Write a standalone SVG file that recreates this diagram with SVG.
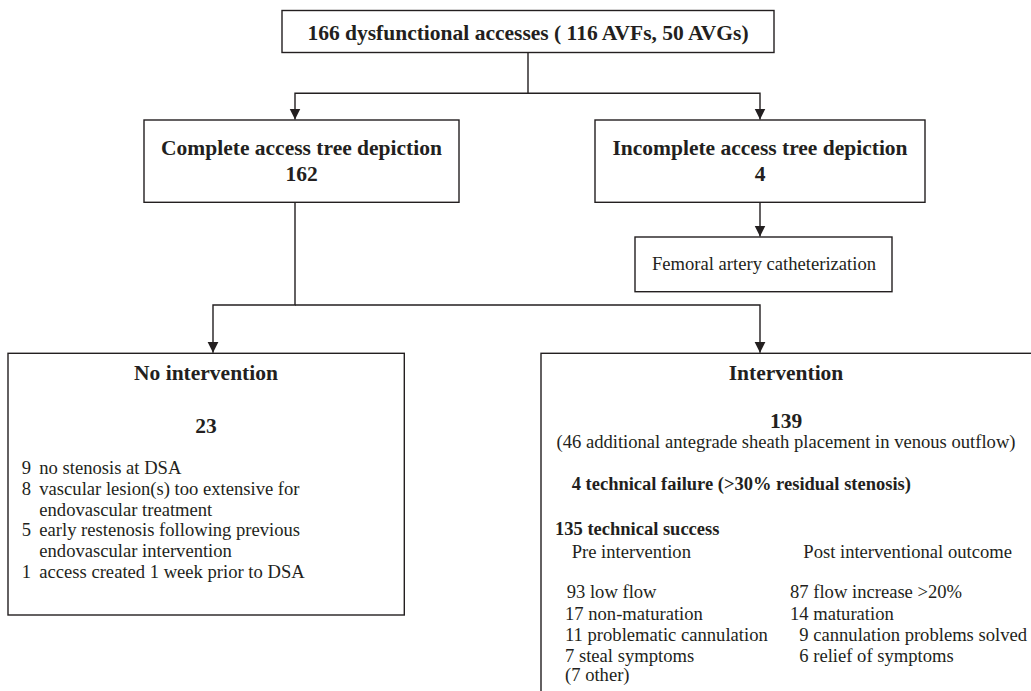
<svg xmlns="http://www.w3.org/2000/svg" width="1031" height="691" viewBox="0 0 1031 691" font-family="Liberation Serif, Times New Roman, serif">
<defs>
<marker id="arr" markerUnits="userSpaceOnUse" markerWidth="12" markerHeight="12" viewBox="0 0 12 12" refX="11" refY="6" orient="auto">
<path d="M0,0.5 L11,6 L0,11.5 Z" fill="#231f20"/>
</marker>
<style>
.box{fill:#fff;stroke:#231f20;stroke-width:1.4}
.ln{fill:none;stroke:#231f20;stroke-width:1.4}
text{font-family:'Liberation Serif','Times New Roman',serif;fill:#231f20}
.h{font-size:21.5px;font-weight:bold;text-anchor:middle}
.b{font-size:18.5px;font-weight:bold}
.r{font-size:18.6px}
.c{text-anchor:middle}
</style>
</defs>
<rect width="1031" height="691" fill="#fff"/>
<g id="connectors">
<path class="ln" d="M528,52.5 V93.3 H295 V119.5" marker-end="url(#arr)"/>
<path class="ln" d="M528,93.3 H760 V119.5" marker-end="url(#arr)"/>
<path class="ln" d="M760,202.3 V236.5" marker-end="url(#arr)"/>
<path class="ln" d="M295,202.3 V305 H213 V352.8" marker-end="url(#arr)"/>
<path class="ln" d="M295,305 H760 V352.8" marker-end="url(#arr)"/>
</g>
<g id="top">
<rect class="box" x="282" y="10.5" width="492" height="42"/>
<text class="h" x="528" y="40">166 dysfunctional accesses ( 116 AVFs, 50 AVGs)</text>
</g>
<g id="complete">
<rect class="box" x="144" y="120" width="315" height="82.3"/>
<text class="h" x="301.5" y="155">Complete access tree depiction</text>
<text class="h" x="301.5" y="181">162</text>
</g>
<g id="incomplete">
<rect class="box" x="595" y="120" width="330" height="82.3"/>
<text class="h" x="760" y="155">Incomplete access tree depiction</text>
<text class="h" x="760" y="181">4</text>
</g>
<g id="femoral">
<rect class="box" x="635" y="237" width="257" height="54.7"/>
<text class="r c" x="764" y="270">Femoral artery catheterization</text>
</g>
<g id="nointervention">
<rect class="box" x="8" y="353.3" width="396.3" height="261.7"/>
<text class="h" x="206" y="380">No intervention</text>
<text class="h" x="206" y="433">23</text>
<text class="r" x="21.7" y="474">9</text><text class="r" x="39.3" y="474">no stenosis at DSA</text>
<text class="r" x="21.7" y="494.8">8</text><text class="r" x="39.3" y="494.8">vascular lesion(s) too extensive for</text>
<text class="r" x="39.3" y="515.6">endovascular treatment</text>
<text class="r" x="21.7" y="536.4">5</text><text class="r" x="39.3" y="536.4">early restenosis following previous</text>
<text class="r" x="39.3" y="557.2">endovascular intervention</text>
<text class="r" x="21.7" y="578">1</text><text class="r" x="39.3" y="578">access created 1 week prior to DSA</text>
</g>
<g id="intervention">
<rect class="box" x="541" y="353.3" width="500" height="350"/>
<text class="h" x="786" y="380">Intervention</text>
<text class="h" x="786" y="428">139</text>
<text class="r c" x="786" y="448">(46 additional antegrade sheath placement in venous outflow)</text>
<text class="b" x="571.7" y="490">4 technical failure (&gt;30% residual stenosis)</text>
<text class="b" x="555" y="535">135 technical success</text>
<text class="r" x="571.7" y="558.3">Pre intervention</text>
<text class="r" x="803.3" y="558.3">Post interventional outcome</text>
<text class="r" x="566.7" y="598.3">93 low flow</text>
<text class="r" x="790" y="598.3">87 flow increase &gt;20%</text>
<text class="r" x="565" y="619.5">17 non-maturation</text>
<text class="r" x="790" y="619.5">14 maturation</text>
<text class="r" x="565" y="640.5">11 problematic cannulation</text>
<text class="r" x="799.3" y="640.5">9 cannulation problems solved</text>
<text class="r" x="565" y="661.5">7 steal symptoms</text>
<text class="r" x="799.3" y="661.5">6 relief of symptoms</text>
<text class="r" x="565" y="681">(7 other)</text>
</g>
</svg>
